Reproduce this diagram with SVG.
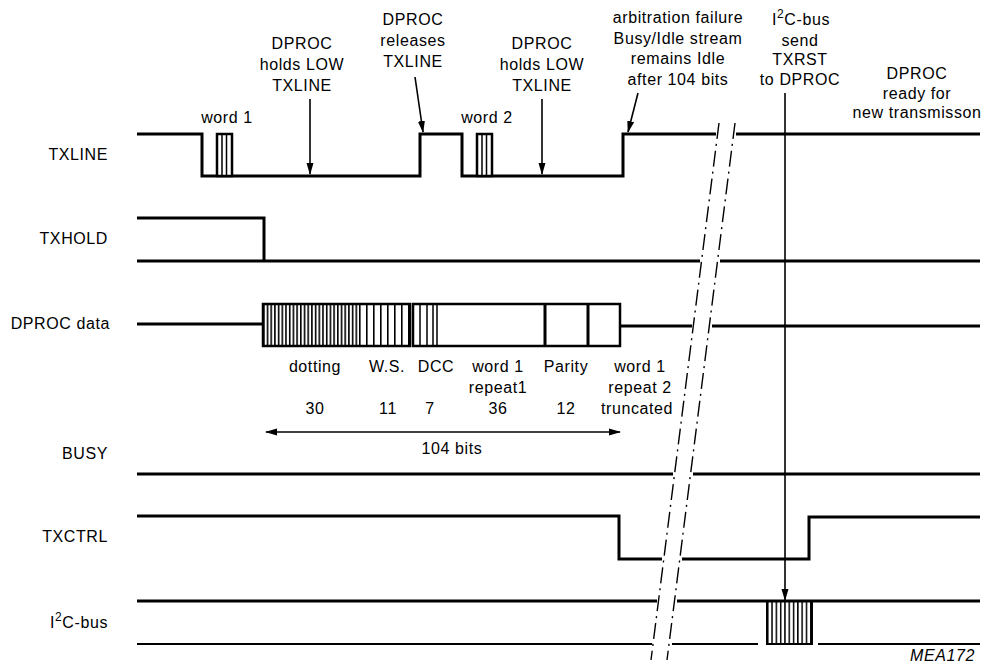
<svg xmlns="http://www.w3.org/2000/svg" width="992" height="665" viewBox="0 0 992 665">
<defs>
<style>
text{font-family:"Liberation Sans",Arial,sans-serif;font-size:16px;letter-spacing:0.6px;fill:#000}
.m{text-anchor:middle}
.r{text-anchor:end}
.sig{fill:none;stroke:#000;stroke-width:3}
.thin{fill:none;stroke:#000;stroke-width:2}
.arr{fill:none;stroke:#000;stroke-width:1.6}
.brk{fill:none;stroke:#000;stroke-width:1.4;stroke-dasharray:16 5 2 5}
.box{fill:#fff;stroke:#000;stroke-width:2.5}
.ol{fill:none;stroke:#000;stroke-width:2.5}
.hl{stroke:#000;stroke-width:1.5}
</style>
<marker id="ah" markerWidth="12" markerHeight="8" refX="11" refY="4" orient="auto" markerUnits="userSpaceOnUse">
<path d="M0,0.5 L12,4 L0,7.5 z" fill="#000"/>
</marker>
<marker id="ahs" markerWidth="12" markerHeight="8" refX="1" refY="4" orient="auto" markerUnits="userSpaceOnUse">
<path d="M12,0.5 L0,4 L12,7.5 z" fill="#000"/>
</marker>
<pattern id="h37" x="263" y="0" width="3.7" height="10" patternUnits="userSpaceOnUse">
<rect x="0" y="0" width="1.6" height="10" fill="#000"/>
</pattern>
<pattern id="h7" x="359" y="0" width="7" height="10" patternUnits="userSpaceOnUse">
<rect x="0" y="0" width="1.6" height="10" fill="#000"/>
</pattern>
<pattern id="h43" x="767" y="0" width="4.3" height="10" patternUnits="userSpaceOnUse">
<rect x="0" y="0" width="1.5" height="10" fill="#000"/>
</pattern>
</defs>
<rect width="992" height="665" fill="#fff"/>

<g id="labels">
<text class="r" x="108" y="160">TXLINE</text>
<text class="r" x="108" y="244">TXHOLD</text>
<text class="r" x="110" y="329">DPROC data</text>
<text class="r" x="108" y="459">BUSY</text>
<text class="r" x="108" y="542">TXCTRL</text>
<text class="r" x="108" y="628">I<tspan dy="-7" font-size="12">2</tspan><tspan dy="7">C-bus</tspan></text>
</g>

<g id="txline">
<path class="sig" d="M137,134 H202 V176 H420 V134 H462 V176 H623 V134 H716"/>
<path class="sig" d="M736,134 H980"/>
<rect class="box" x="217" y="134" width="15" height="42" stroke-width="2"/>
<path class="hl" d="M222,134 V176 M226.5,134 V176"/>
<rect class="box" x="477" y="134" width="15" height="42" stroke-width="2"/>
<path class="hl" d="M482,134 V176 M486.5,134 V176"/>
<text class="m" x="227" y="123">word 1</text>
<text class="m" x="487" y="123">word 2</text>
</g>

<g id="txhold">
<path class="sig" d="M137,218 H264 V261"/>
<path class="sig" d="M137,261 H700"/>
<path class="sig" d="M720,261 H980"/>
</g>

<g id="dproc-data">
<path class="sig" d="M137,324 H263"/>
<rect x="263" y="304" width="96" height="42" fill="url(#h37)"/>
<rect x="359" y="304" width="51" height="42" fill="url(#h7)"/>
<rect class="ol" x="263" y="304" width="147" height="42"/>
<rect class="box" x="413" y="304" width="207" height="42"/>
<path class="hl" d="M420,304 V346 M427,304 V346 M433,304 V346 M437,304 V346"/>
<path class="sig" d="M545,304 V346 M588,304 V346" stroke-width="2.5"/>
<path class="sig" d="M620,326 H692"/>
<path class="sig" d="M712,326 H980"/>
<text class="m" x="315" y="372">dotting</text>
<text class="m" x="387" y="372">W.S.</text>
<text class="m" x="436" y="372">DCC</text>
<text class="m" x="498" y="372">word 1</text>
<text class="m" x="498" y="393">repeat1</text>
<text class="m" x="566" y="372">Parity</text>
<text class="m" x="640" y="372">word 1</text>
<text class="m" x="640" y="393">repeat 2</text>
<text class="m" x="637" y="414">truncated</text>
<text class="m" x="315" y="414">30</text>
<text class="m" x="388" y="414">11</text>
<text class="m" x="430" y="414">7</text>
<text class="m" x="498" y="414">36</text>
<text class="m" x="566" y="414">12</text>
<text class="m" x="452" y="454">104 bits</text>
</g>

<g id="busy">
<path class="sig" d="M137,474 H673"/>
<path class="sig" d="M693,474 H980"/>
</g>

<g id="txctrl">
<path class="sig" d="M137,516 H619 V559 H662"/>
<path class="sig" d="M682,559 H809 V517 H980"/>
</g>

<g id="i2c-bus">
<path class="sig" d="M137,601 H657"/>
<path class="sig" d="M677,601 H980"/>
<path class="thin" d="M137,644 H652"/>
<path class="thin" d="M672,644 H758"/>
<path class="thin" d="M818,644 H980"/>
<rect x="767" y="601" width="45" height="43" fill="url(#h43)"/>
<rect x="767" y="601" width="45" height="43" fill="none" stroke="#000" stroke-width="2"/>
</g>

<g id="annotations">
<text class="m" x="302" y="49">DPROC</text>
<text class="m" x="302" y="70">holds LOW</text>
<text class="m" x="302" y="91">TXLINE</text>
<text class="m" x="413" y="25">DPROC</text>
<text class="m" x="413" y="46">releases</text>
<text class="m" x="413" y="67">TXLINE</text>
<text class="m" x="542" y="49">DPROC</text>
<text class="m" x="542" y="70">holds LOW</text>
<text class="m" x="542" y="91">TXLINE</text>
<text class="m" x="678" y="23">arbitration failure</text>
<text class="m" x="678" y="44">Busy/Idle stream</text>
<text class="m" x="678" y="64">remains Idle</text>
<text class="m" x="678" y="85">after 104 bits</text>
<text class="m" x="801" y="25">I<tspan dy="-7" font-size="12">2</tspan><tspan dy="7">C-bus</tspan></text>
<text class="m" x="800" y="46">send</text>
<text class="m" x="800" y="65">TXRST</text>
<text class="m" x="800" y="85">to DPROC</text>
<text class="m" x="917" y="79">DPROC</text>
<text class="m" x="917" y="99">ready for</text>
<text class="m" x="917" y="118">new transmisson</text>
<text x="975" y="661" text-anchor="end" font-style="italic" font-size="11" letter-spacing="1.5">MEA172</text>
</g>

<g id="connectors">
<path class="arr" d="M310,99 V174" marker-end="url(#ah)"/>
<path class="arr" d="M415,77 L423,132" marker-end="url(#ah)"/>
<path class="arr" d="M542,99 V174" marker-end="url(#ah)"/>
<path class="arr" d="M638,93 L628,132" marker-end="url(#ah)"/>
<path class="arr" d="M785,93 V600" marker-end="url(#ah)" stroke-width="2"/>
<path class="arr" d="M266,432 H620" marker-start="url(#ahs)" marker-end="url(#ah)" stroke-width="1.4"/>
</g>

<g id="break">
<path class="brk" d="M719,123 L651,660"/>
<path class="brk" d="M735,123 L667,660"/>
</g>
</svg>
